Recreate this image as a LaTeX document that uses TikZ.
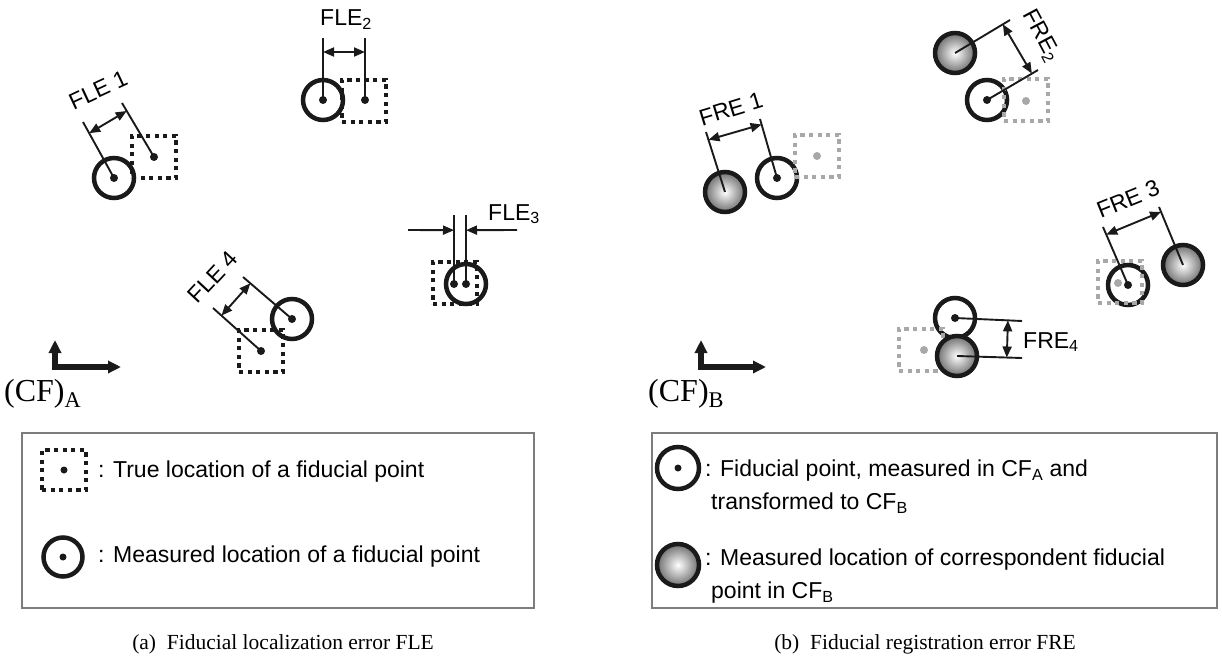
\documentclass[tikz,border=0pt]{standalone}
\usepackage{fontspec}
\setmainfont{Liberation Sans}
\newfontfamily\capfont{Liberation Serif}
\usetikzlibrary{arrows.meta,calc}

\definecolor{ink}{RGB}{26,26,26}
\definecolor{truegray}{RGB}{168,168,168}
\definecolor{framegray}{RGB}{125,125,125}
\definecolor{ballgray}{RGB}{110,110,110}

\tikzset{
  meas/.style={circle, draw=ink, line width=4.5pt, minimum size=40pt, inner sep=0pt},
  ball/.style={circle, draw=ink, line width=4.5pt, minimum size=40pt, inner sep=0pt,
    shading=radial, inner color=white, outer color=ballgray},
  truebox/.style={rectangle, draw=ink, line width=4.2pt, dash pattern=on 4.2pt off 4.4pt,
    minimum width=44pt, minimum height=42pt, inner sep=0pt},
  graybox/.style={truebox, draw=truegray},
  pt/.style={circle, fill=ink, minimum size=8pt, inner sep=0pt},
  graypt/.style={pt, fill=truegray},
  lead/.style={draw=ink, line width=1.9pt},
  dim/.style={draw=ink, line width=1.9pt,
    {Triangle[length=11pt,width=9pt]}-{Triangle[length=11pt,width=9pt]}},
  dimin/.style={draw=ink, line width=1.9pt, -{Triangle[length=11pt,width=9pt]}},
  axis/.style={draw=ink, line width=5.5pt,
    {Triangle[length=13pt,width=12pt]}-{Triangle[length=13pt,width=12pt]}},
  lbl/.style={font=\fontsize{23}{27}\selectfont, inner sep=0pt},
  legtxt/.style={font=\fontsize{23}{33}\selectfont, inner sep=0pt, align=left},
  cftxt/.style={font=\capfont\fontsize{32}{36}\selectfont, inner sep=0pt},
  captxt/.style={font=\capfont\fontsize{21.5}{26}\selectfont, inner sep=0pt},
  legframe/.style={draw=framegray, line width=1.5pt},
}

\begin{document}
\begin{tikzpicture}[x=1pt,y=-1pt]
\useasboundingbox (0,0) rectangle (1222,661);

% ---------------- (a) localization error ----------------
% measured locations
\node[meas] (m1) at (114,178) {};
\node[meas] (m2) at (323,100) {};
\node[meas] (m3) at (466,284) {};
\node[meas] (m4) at (292,319) {};
% true locations
\node[truebox] (t1) at (154,157) {};
\node[truebox] (t2) at (364,101) {};
\node[truebox] (t3) at (455,283) {};
\node[truebox] (t4) at (261,351) {};
% centre points
\node[pt] (pm1) at (m1) {};
\node[pt] (pm2) at (m2) {};
\node[pt] (pm3) at (m3) {};
\node[pt] (pm4) at (m4) {};
\node[pt] (pt1) at (154,157) {};
\node[pt] (pt2) at (365,100) {};
\node[pt] (pt3) at (454,284) {};
\node[pt] (pt4) at (261,351) {};

% extension lines
\coordinate (em1) at (83,122);   \coordinate (et1) at (122,103);
\coordinate (em2) at (323,38);   \coordinate (et2) at (365,38);
\coordinate (em3) at (466,215);  \coordinate (et3) at (454,215);
\coordinate (em4) at (243,277);  \coordinate (et4) at (213,308);
\foreach \i in {1,2,3,4}{
  \draw[lead] (pm\i.center) -- (em\i);
  \draw[lead] (pt\i.center) -- (et\i);
}

% dimension arrows
\coordinate (d1a) at ($(pm1.center)!0.8!(em1)$);
\coordinate (d1b) at ($(pt1.center)!(d1a)!(et1)$);
\draw[dim] (d1a) -- (d1b);
\coordinate (d2a) at ($(pm2.center)!0.774!(em2)$);
\coordinate (d2b) at ($(pt2.center)!(d2a)!(et2)$);
\draw[dim] (d2a) -- (d2b);
\coordinate (d3a) at ($(pt3.center)!0.78!(et3)$);
\coordinate (d3b) at ($(pm3.center)!0.78!(em3)$);
\coordinate (d3l) at (408,230);
\coordinate (d3r) at (517,230);
\draw[dimin] (d3l) -- (d3a);
\draw[dimin] (d3r) -- (d3b);
\coordinate (d4a) at ($(pm4.center)!0.85!(em4)$);
\coordinate (d4b) at ($(pt4.center)!(d4a)!(et4)$);
\draw[dim] (d4a) -- (d4b);

% labels
\node[lbl, rotate=25] (fle1) at (98,90) {FLE 1};
\node[lbl, anchor=base west] (fle2) at (320,26) {FLE\textsubscript{2}};
\node[lbl, anchor=base west] (fle3) at (488,220) {FLE\textsubscript{3}};
\node[lbl, rotate=47] (fle4) at (213,277) {FLE 4};

% coordinate frame A
\coordinate (oa) at (55,367);
\coordinate (ya) at (55,340);
\coordinate (xa) at (121,367);
\draw[axis] (ya) -- (oa) -- (xa);
\node[cftxt, anchor=base west] (cfa) at (4,401) {(CF)\textsubscript{A}};

% legend A
\draw[legframe] (22,433) rectangle (534,608);
\node[truebox, minimum width=44pt, minimum height=40pt] (lt) at (64,470) {};
\node[pt, minimum size=7pt] (ltp) at (lt) {};
\node[legtxt, anchor=west] (ltx) at (98,472) {: True location of a fiducial point};
\node[meas, minimum size=39pt] (lm) at (63,557) {};
\node[pt, minimum size=7pt] (lmp) at (lm) {};
\node[legtxt, anchor=west] (lmx) at (98,557) {: Measured location of a fiducial point};

\node[captxt] (capa) at (283,644) {(a)\enspace Fiducial localization error FLE};

% ---------------- (b) registration error ----------------
% transformed (measured in A) points
\node[meas] (n1) at (777,178) {};
\node[meas] (n2) at (987,100) {};
\node[meas] (n3) at (1128,285) {};
\node[meas] (n4) at (955,318) {};
% true locations, grey
\node[graybox] (g1) at (817,156) {};
\node[graybox] (g2) at (1026,100) {};
\node[graybox] (g3) at (1120,282) {};
\node[graybox] (g4) at (921,350) {};
\node[graypt] (gp1) at (817,156) {};
\node[graypt] (gp2) at (1026,101) {};
\node[graypt] (gp3) at (1118,283) {};
\node[graypt] (gp4) at (924,350) {};
% measured in B
\node[ball] (b1) at (725,192) {};
\node[ball] (b2) at (955,53) {};
\node[ball] (b3) at (1183,265) {};
\node[ball] (b4) at (957,356) {};
\node[pt] (pn1) at (n1) {};
\node[pt] (pn2) at (n2) {};
\node[pt] (pn3) at (n3) {};
\node[pt] (pn4) at (n4) {};

% extension lines
\coordinate (eb1) at (706,132);  \coordinate (en1) at (760,119);
\coordinate (eb2) at (1010,20);  \coordinate (en2) at (1038,70);
\coordinate (eb3) at (1159,207); \coordinate (en3) at (1103,227);
\coordinate (eb4) at (1022,358); \coordinate (en4) at (1022,321);
\foreach \i in {1,2,3,4}{
  \draw[lead] (b\i.center) -- (eb\i);
  \draw[lead] (pn\i.center) -- (en\i);
}

% dimension arrows
\coordinate (r1a) at ($(b1.center)!0.87!(eb1)$);
\coordinate (r1b) at ($(pn1.center)!(r1a)!(en1)$);
\draw[dim] (r1a) -- (r1b);
\coordinate (r2a) at ($(b2.center)!0.87!(eb2)$);
\coordinate (r2b) at ($(pn2.center)!(r2a)!(en2)$);
\draw[dim] (r2a) -- (r2b);
\coordinate (r3a) at ($(pn3.center)!0.87!(en3)$);
\coordinate (r3b) at ($(b3.center)!(r3a)!(eb3)$);
\draw[dim] (r3a) -- (r3b);
\coordinate (r4a) at ($(pn4.center)!0.79!(en4)$);
\coordinate (r4b) at ($(b4.center)!(r4a)!(eb4)$);
\draw[dim] (r4a) -- (r4b);

% labels
\node[lbl, rotate=17] (fre1) at (731,109) {FRE 1};
\node[lbl, rotate=-62] (fre2) at (1041,36) {FRE\textsubscript{2}};
\node[lbl, rotate=22] (fre3) at (1128,199) {FRE 3};
\node[lbl, anchor=base west] (fre4) at (1023,348) {FRE\textsubscript{4}};

% coordinate frame B
\coordinate (ob) at (701,367);
\coordinate (yb) at (701,340);
\coordinate (xb) at (766,367);
\draw[axis] (yb) -- (ob) -- (xb);
\node[cftxt, anchor=base west] (cfb) at (648,401) {(CF)\textsubscript{B}};

% legend B
\draw[legframe] (652,433) rectangle (1217,608);
\node[meas, minimum size=42pt] (lbn) at (678,468) {};
\node[pt, minimum size=7pt] (lbnp) at (lbn) {};
\node[legtxt, anchor=west] (lbnx) at (705,487)
  {: Fiducial point, measured in CF\textsubscript{A} and\\\hspace{6pt}transformed to CF\textsubscript{B}};
\node[ball, minimum size=42pt] (lbb) at (678,565) {};
\node[legtxt, anchor=west] (lbbx) at (705,576)
  {: Measured location of correspondent fiducial\\\hspace{6pt}point in CF\textsubscript{B}};

\node[captxt] (capb) at (925,644) {(b)\enspace Fiducial registration error FRE};
\end{tikzpicture}
\end{document}
